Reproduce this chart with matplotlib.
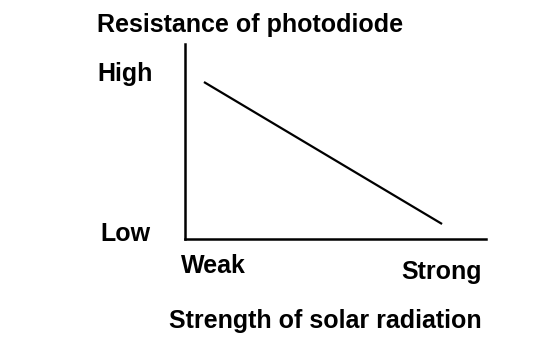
import matplotlib
matplotlib.use('Agg')
import matplotlib.pyplot as plt

# relative scale, 0..1 on both axes
strength = [0.063, 0.854]
resistance = [0.805, 0.077]
x_labels = ['Weak', 'Strong']
y_labels = ['Low', 'High']

plt.rcParams['font.family'] = ['Liberation Sans', 'DejaVu Sans']

W, H = 544, 346
fig = plt.figure(figsize=(W / 100, H / 100), dpi=100)
ax = fig.add_axes([185 / W, (H - 239) / H, 301 / W, 195 / H])

ax.plot(strength, resistance, '-', color='black', lw=1.6, solid_capstyle='butt')
ax.set_xlim(0, 1)
ax.set_ylim(0, 1)
for side in ['top', 'right']:
    ax.spines[side].set_visible(False)
for side in ['left', 'bottom']:
    ax.spines[side].set_linewidth(1.8)
ax.set_xticks([])
ax.set_yticks([])

fs = 18
def label(x, y, s):
    fig.text(x / W, 1 - y / H, s, fontsize=fs, fontweight='bold',
             va='baseline', ha='left')

label(97, 32, 'Resistance of photodiode')
label(97, 81, y_labels[1])
label(100, 241, y_labels[0])
label(181, 273, x_labels[0])
label(401, 279, x_labels[1])
label(169, 328, 'Strength of solar radiation')

plt.savefig('out.png', dpi=100)
